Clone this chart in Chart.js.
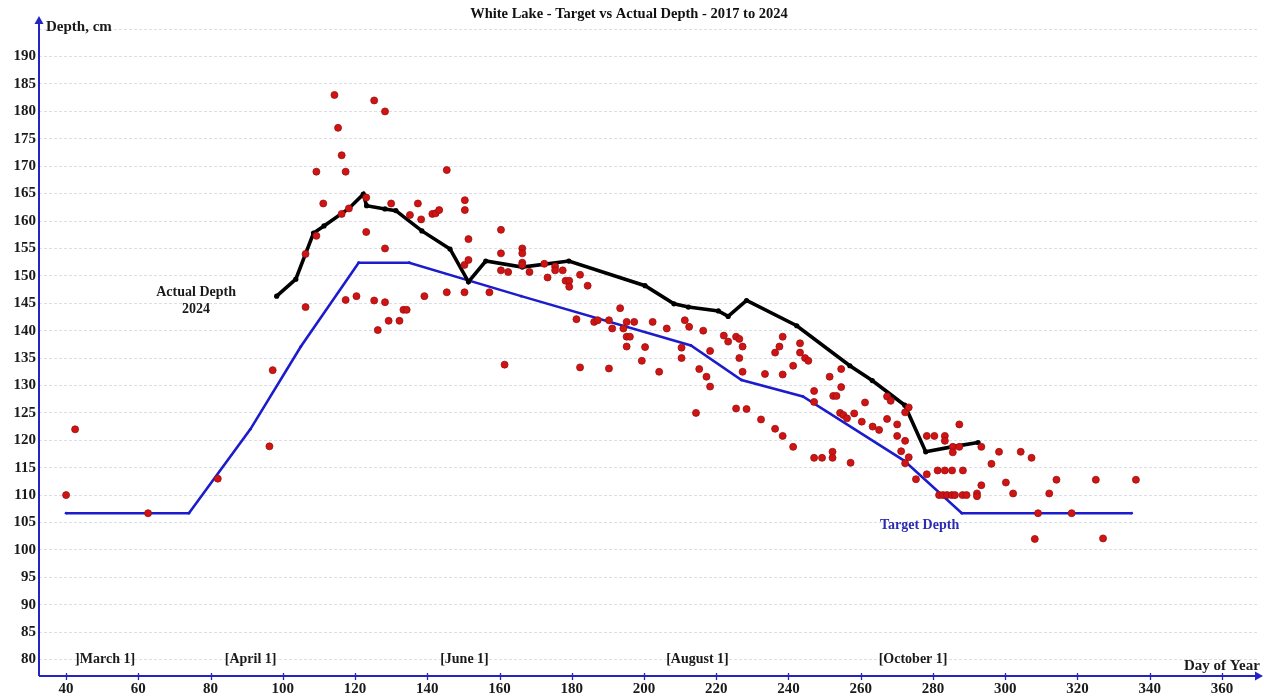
<!DOCTYPE html>
<html>
<head>
<meta charset="utf-8">
<title>White Lake - Target vs Actual Depth</title>
<script src="https://cdn.jsdelivr.net/npm/chart.js@4.4.1/dist/chart.umd.min.js"></script>
<style>
  html, body { margin: 0; padding: 0; background: #ffffff; }
  #wrap { width: 1264px; height: 698px; position: relative; }
</style>
</head>
<body>
<div id="wrap"><canvas id="chart" width="1264" height="698"></canvas></div>
<script>
// ---------------- DATA ----------------
const chartTitle = 'White Lake - Target vs Actual Depth - 2017 to 2024';
const yAxisLabel = 'Depth, cm';
const xAxisLabel = 'Day of Year';

const xTickValues = [40, 60, 80, 100, 120, 140, 160, 180, 200, 220, 240, 260, 280, 300, 320, 340, 360];
const yTickValues = [80, 85, 90, 95, 100, 105, 110, 115, 120, 125, 130, 135, 140, 145, 150, 155, 160, 165, 170, 175, 180, 185, 190, 195];

const monthLabels = [']March 1]', '[April 1]', '[June 1]', '[August 1]', '[October 1]'];

// Target depth (blue line)
const targetDay   = [40, 63, 74, 91, 105, 121, 135, 166, 213, 227, 244, 272, 288, 335];
const targetDepth = [106.7, 106.7, 106.7, 122, 137.1, 152.4, 152.4, 146.3, 137.3, 131, 128, 116.3, 106.7, 106.7];

// Actual depth 2024 (black line)
const actualDay   = [98.3, 103.6, 108.5, 111.4, 118.3, 122.3, 123.2, 128.3, 131.3, 138.5, 146.3, 151.4, 156.2, 166.3, 179.2, 200.3, 208.3, 212.3, 220.6, 223.3, 228.4, 242.3, 257, 263.2, 272.2, 278, 285.2, 292.5];
const actualDepth = [146.3, 149.4, 157.8, 159.1, 162.3, 164.9, 162.8, 162.2, 161.9, 158.2, 154.9, 148.9, 152.7, 151.6, 152.7, 148.2, 144.9, 144.3, 143.6, 142.6, 145.5, 140.9, 133.6, 130.9, 126.4, 117.9, 118.8, 119.6];

// Measured depths 2017-2023 (red dots)
const histDay = [
  40, 42.5, 62.7, 82, 96.3, 97.2, 106.3, 106.3, 109.3, 109.3,
  111.2, 114.3, 115.3, 116.3, 116.3, 117.4, 117.4, 118.3, 120.4, 123.1,
  123.1, 125.3, 125.3, 126.3, 128.3, 128.3, 128.3, 129.3, 130, 132.3,
  133.4, 134.3, 135.2, 137.4, 138.3, 139.2, 141.4, 142.3, 143.3, 145.4,
  145.4, 150.4, 150.4, 150.3, 150.3, 151.4, 151.4, 157.2, 160.4, 160.4,
  160.4, 161.4, 162.4, 166.3, 166.3, 166.3, 166.3, 168.3, 172.4, 173.3,
  175.4, 175.4, 177.5, 178.3, 179.3, 179.3, 181.3, 182.3, 182.3, 184.4,
  186.2, 187.2, 190.3, 190.3, 191.2, 193.4, 194.3, 195.2, 195.2, 196.1,
  195.2, 197.3, 199.4, 200.3, 202.4, 204.2, 206.3, 210.4, 210.4, 211.3,
  212.5, 214.4, 215.3, 216.4, 217.3, 218.3, 218.3, 222.1, 223.3, 225.5,
  226.4, 227.3, 226.4, 227.3, 225.5, 228.4, 232.4, 233.5, 236.3, 236.3,
  237.5, 238.4, 238.4, 238.4, 241.3, 241.3, 243.2, 243.2, 244.6, 245.5,
  247.1, 247.1, 247.1, 249.3, 251.4, 252.2, 252.2, 252.4, 253.3, 254.6,
  254.6, 254.3, 255.2, 256.2, 257.2, 258.2, 260.3, 261.2, 263.3, 265.1,
  267.3, 268.3, 267.3, 270.1, 270.1, 271.2, 272.3, 272.3, 273.3, 272.3,
  273.3, 275.3, 278.3, 280.4, 283.3, 283.3, 287.3, 285.5, 287.3, 285.5,
  293.4, 278.3, 281.3, 283.3, 285.3, 288.3, 281.7, 282.8, 283.9, 285.2,
  286.1, 288.2, 289.3, 292.2, 292.2, 293.4, 296.2, 298.3, 300.2, 302.2,
  304.3, 307.3, 309.1, 308.2, 312.2, 314.2, 318.4, 325.1, 327.1, 336.2
];
const histDepth = [
  110, 122, 106.7, 113, 118.9, 132.8, 154, 144.3, 169, 157.3,
  163.2, 183, 177, 172, 161.3, 169, 145.6, 162.3, 146.3, 164.3,
  158, 182, 145.5, 140.1, 180, 155, 145.2, 141.8, 163.2, 141.8,
  143.8, 143.8, 161.1, 163.2, 160.3, 146.3, 161.3, 161.4, 162, 169.3,
  147, 163.8, 162, 147, 152, 152.9, 156.7, 147, 158.4, 154.1,
  151, 133.8, 150.7, 155, 154.1, 152.4, 152, 150.7, 152.2, 149.7,
  151.7, 151, 151, 149.1, 149.1, 148, 142.1, 150.2, 133.3, 148.2,
  141.6, 141.9, 141.9, 133.1, 140.4, 144.1, 140.4, 141.6, 138.9, 138.9,
  137.1, 141.6, 134.5, 137, 141.6, 132.5, 140.4, 136.9, 135, 141.9,
  140.7, 125, 133, 140, 131.6, 136.3, 129.8, 139.1, 138, 138.9,
  138.5, 137.1, 135, 132.5, 125.8, 125.7, 123.8, 132.1, 136, 122.1,
  137.1, 138.9, 132, 120.8, 133.6, 118.8, 137.7, 136, 135, 134.5,
  129, 127, 116.8, 116.8, 131.6, 117.9, 116.8, 128.1, 128.1, 133,
  129.7, 125, 124.6, 124, 115.9, 124.9, 123.4, 126.9, 122.5, 121.9,
  128, 127.2, 123.9, 122.9, 120.8, 118, 119.9, 115.8, 116.9, 125.1,
  126, 112.9, 120.8, 120.8, 120.8, 119.9, 122.9, 118.8, 118.8, 117.8,
  118.8, 113.8, 114.5, 114.5, 114.5, 114.5, 110, 110, 110, 110,
  110, 110, 110, 110.3, 109.8, 111.8, 115.7, 117.9, 112.3, 110.3,
  117.9, 116.8, 106.7, 102, 110.3, 112.8, 106.7, 112.8, 102.1, 112.8
];

// ---------------- STYLE ----------------
const SERIF = '"Liberation Serif", "Times New Roman", Times, serif';
const AXIS_BLUE = '#2424c4';
const TARGET_BLUE = '#1c1ccc';
const TEXT_DARK = '#1a1a1a';

const toXY = (xs, ys) => xs.map((v, i) => ({ x: v, y: ys[i] }));

// Annotation texts anchored in data units
const annotations = [
  { text: monthLabels[0], x: 50.8, y: 80, color: TEXT_DARK, size: 14 },
  { text: monthLabels[1], x: 91.1, y: 80, color: TEXT_DARK, size: 14 },
  { text: monthLabels[2], x: 150.3, y: 80, color: TEXT_DARK, size: 14 },
  { text: monthLabels[3], x: 214.8, y: 80, color: TEXT_DARK, size: 14 },
  { text: monthLabels[4], x: 274.5, y: 80, color: TEXT_DARK, size: 14 },
  { text: 'Actual Depth', x: 76, y: 146.9, color: TEXT_DARK, size: 14 },
  { text: '2024', x: 76, y: 143.9, color: TEXT_DARK, size: 14 },
  { text: 'Target Depth', x: 276.3, y: 104.4, color: '#2a2ab4', size: 14 }
];

const overlay = {
  id: 'overlay',
  afterDraw(chart) {
    const { ctx, chartArea: a, scales: { x, y } } = chart;
    ctx.save();
    // axis lines
    ctx.strokeStyle = AXIS_BLUE;
    ctx.fillStyle = AXIS_BLUE;
    ctx.lineWidth = 2;
    ctx.beginPath();
    ctx.moveTo(a.left, a.bottom);
    ctx.lineTo(a.left, 22);
    ctx.moveTo(a.left, a.bottom);
    ctx.lineTo(a.right - 2, a.bottom);
    ctx.stroke();
    // arrow heads
    ctx.beginPath();
    ctx.moveTo(a.left, 16);
    ctx.lineTo(a.left - 4.5, 24);
    ctx.lineTo(a.left + 4.5, 24);
    ctx.closePath();
    ctx.fill();
    ctx.beginPath();
    ctx.moveTo(a.right + 5, a.bottom);
    ctx.lineTo(a.right - 3, a.bottom - 4.5);
    ctx.lineTo(a.right - 3, a.bottom + 4.5);
    ctx.closePath();
    ctx.fill();
    // x tick marks
    ctx.lineWidth = 1.3;
    ctx.beginPath();
    xTickValues.forEach(v => {
      const px = Math.round(x.getPixelForValue(v)) + 0.5;
      ctx.moveTo(px, a.bottom - 3);
      ctx.lineTo(px, a.bottom + 4);
    });
    ctx.stroke();

    // axis titles
    ctx.fillStyle = TEXT_DARK;
    ctx.font = 'bold 15px ' + SERIF;
    ctx.textBaseline = 'middle';
    ctx.textAlign = 'left';
    ctx.fillText(yAxisLabel, a.left + 7, 27);
    ctx.fillText(xAxisLabel, a.right - 74, a.bottom - 10);

    // annotations
    ctx.textAlign = 'center';
    annotations.forEach(n => {
      ctx.fillStyle = n.color;
      ctx.font = 'bold ' + n.size + 'px ' + SERIF;
      ctx.fillText(n.text, x.getPixelForValue(n.x), y.getPixelForValue(n.y));
    });
    ctx.restore();
  }
};

new Chart(document.getElementById('chart'), {
  type: 'scatter',
  data: {
    datasets: [
      {
        label: 'Measured 2017-2023',
        data: toXY(histDay, histDepth),
        showLine: false,
        pointRadius: 3.5,
        pointHoverRadius: 3.5,
        backgroundColor: '#d01414',
        borderColor: '#9c0f0f',
        borderWidth: 0.8,
        order: 0
      },
      {
        label: 'Actual Depth 2024',
        type: 'line',
        data: toXY(actualDay, actualDepth),
        borderColor: '#000000',
        borderWidth: 3.6,
        pointRadius: 2.6,
        pointBackgroundColor: '#000000',
        pointBorderWidth: 0,
        tension: 0,
        fill: false,
        order: 1
      },
      {
        label: 'Target Depth',
        type: 'line',
        data: toXY(targetDay, targetDepth),
        borderColor: TARGET_BLUE,
        borderWidth: 2.6,
        pointRadius: 1.4,
        pointBackgroundColor: TARGET_BLUE,
        pointBorderWidth: 0,
        tension: 0,
        fill: false,
        order: 2
      }
    ]
  },
  options: {
    responsive: false,
    animation: false,
    devicePixelRatio: 1,
    layout: { padding: { left: 0, right: 6, top: 0, bottom: 0 } },
    plugins: {
      legend: { display: false },
      tooltip: { enabled: false },
      title: {
        display: true,
        text: chartTitle,
        color: '#111111',
        font: { family: SERIF, size: 14.5, weight: 'bold', lineHeight: 1 },
        padding: { top: 7, bottom: 0 }
      }
    },
    scales: {
      x: {
        type: 'linear',
        min: 32.5,
        max: 370,
        afterBuildTicks: s => { s.ticks = xTickValues.map(v => ({ value: v })); },
        afterFit: s => { s.height = 22; },
        grid: { display: false, drawTicks: false },
        border: { display: false },
        ticks: {
          color: TEXT_DARK,
          font: { family: SERIF, size: 15, weight: 'bold' },
          padding: 4,
          maxRotation: 0,
          minRotation: 0,
          autoSkip: false
        }
      },
      y: {
        type: 'linear',
        min: 77,
        max: 196.4,
        afterBuildTicks: s => { s.ticks = yTickValues.map(v => ({ value: v })); },
        afterFit: s => { s.width = 39; },
        grid: { color: '#dcdfe7', lineWidth: 1, drawTicks: false },
        border: { display: false, dash: [3, 2] },
        ticks: {
          color: TEXT_DARK,
          font: { family: SERIF, size: 15, weight: 'bold' },
          padding: 3,
          autoSkip: false,
          callback: v => (v === 195 ? '' : String(v))
        }
      }
    }
  },
  plugins: [overlay]
});
</script>
</body>
</html>
